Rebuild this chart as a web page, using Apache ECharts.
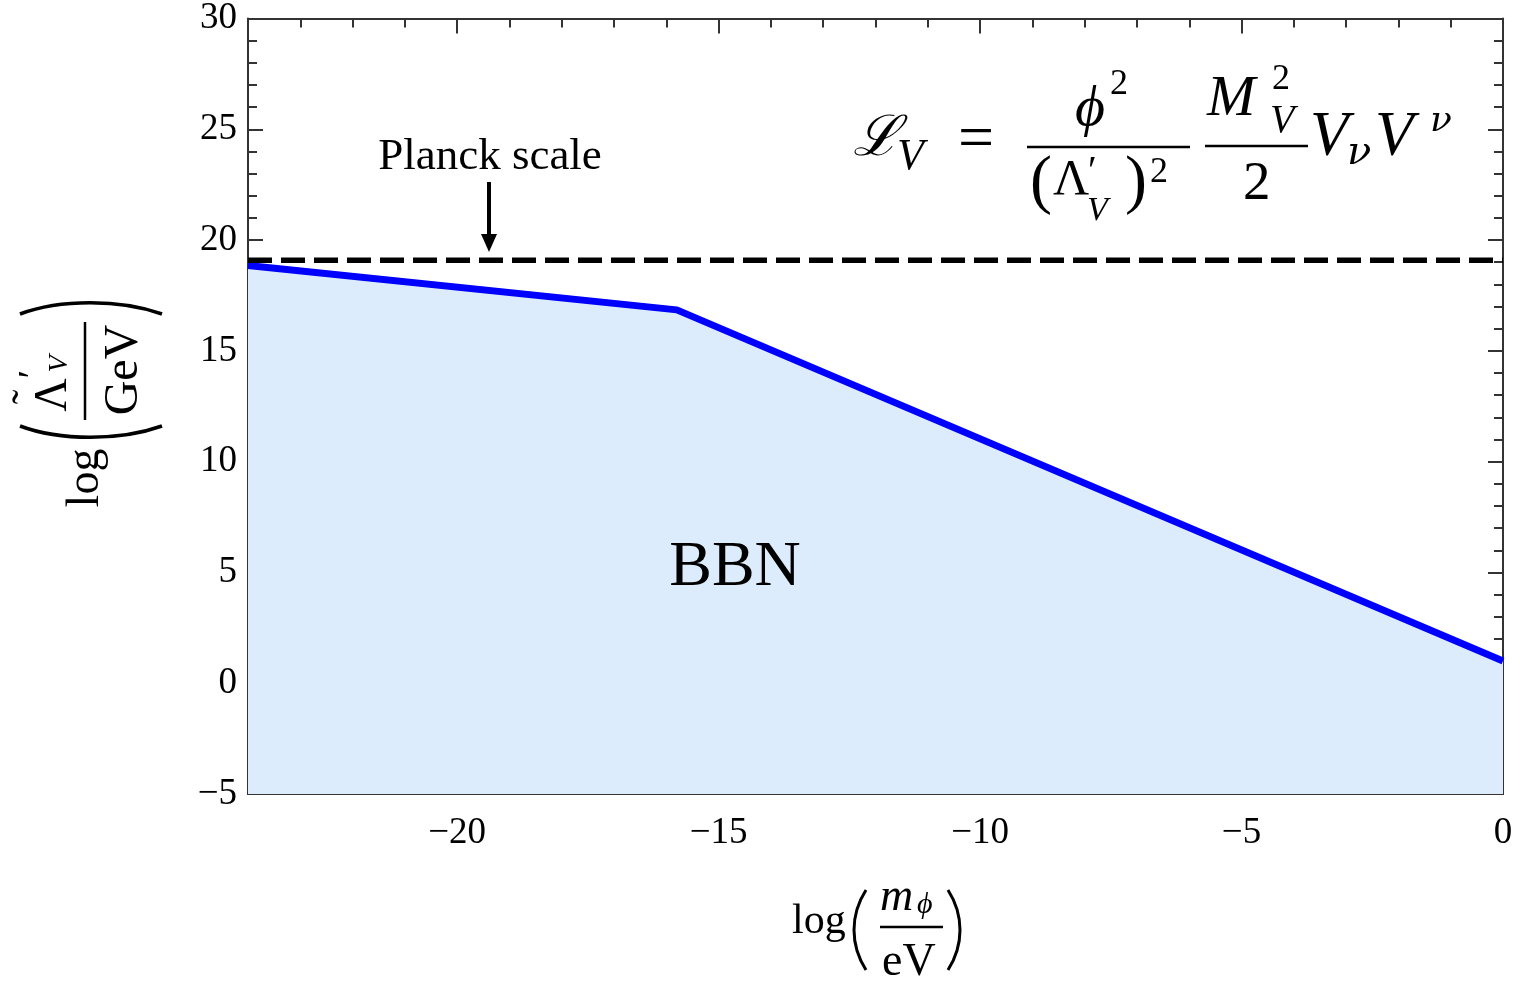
<!DOCTYPE html>
<html>
<head>
<meta charset="utf-8">
<script src="https://cdn.jsdelivr.net/npm/echarts@6/dist/echarts.min.js"></script>
<style>
html,body{margin:0;padding:0;background:#fff;}
#chart{width:1520px;height:983px;}
</style>
</head>
<body>
<div id="chart"></div>
<script>
// ---- data ----
const boundaryX = [-24, -15.8, 0];
const boundaryY = [18.85, 16.85, 1.0];
const planckX = [-24, 0];
const planckY = [19.09, 19.09];
const xMajorTicks = [-20, -15, -10, -5, 0];
const xMinorTicks = [-24,-23,-22,-21,-20,-19,-18,-17,-16,-15,-14,-13,-12,-11,-10,-9,-8,-7,-6,-5,-4,-3,-2,-1,0];
const yMin = -5, yMax = 30, yStep = 5;
const xMin = -24, xMax = 0;

const SERIF = '"Liberation Serif","DejaVu Serif",serif';
const DJV = '"DejaVu Serif",serif';
const AX = '#333';
const fmt = v => (v < 0 ? '\u2212' + Math.abs(v) : String(v));

const chart = echarts.init(document.getElementById('chart'));

function xAxisDef(pos, major, labels) {
  return {
    type: 'value', position: pos, min: xMin, max: xMax,
    axisLine: {show: true, onZero: false, lineStyle: {color: AX, width: 2}},
    axisTick: {show: true, inside: true, length: major ? 15 : 9,
      customValues: major ? xMajorTicks : xMinorTicks, lineStyle: {color: AX, width: 2}},
    axisLabel: {show: labels, customValues: xMajorTicks, formatter: fmt, margin: 21,
      fontFamily: SERIF, fontSize: 37, color: '#000'},
    splitLine: {show: false}, minorTick: {show: false}
  };
}
function yAxisDef(pos, labels) {
  return {
    type: 'value', position: pos, min: yMin, max: yMax, interval: yStep,
    axisLine: {show: true, onZero: false, lineStyle: {color: AX, width: 2}},
    axisTick: {show: true, inside: true, length: 15, lineStyle: {color: AX, width: 2}},
    minorTick: {show: true, splitNumber: 5, length: 9, lineStyle: {color: AX, width: 2}},
    axisLabel: {show: labels, formatter: fmt, margin: 11,
      fontFamily: SERIF, fontSize: 37, color: '#000'},
    splitLine: {show: false}
  };
}

function T(text, x, y, size, opts) {
  opts = opts || {};
  return {
    type: 'text', x: x, y: y, z: 100, rotation: opts.rot || 0,
    style: {
      text: text,
      font: (opts.italic ? 'italic ' : '') + size + 'px ' + (opts.family || SERIF),
      fill: '#000',
      align: opts.align || 'left',
      verticalAlign: 'middle'
    }
  };
}
function L(x1, y1, x2, y2, w) {
  return {type: 'line', z: 100, shape: {x1, y1, x2, y2}, style: {stroke: '#000', lineWidth: w || 2.5}};
}
function B(x1, y1, c1x, c1y, c2x, c2y, x2, y2, w) {
  return {type: 'bezierCurve', z: 100,
    shape: {x1, y1, cpx1: c1x, cpy1: c1y, cpx2: c2x, cpy2: c2y, x2, y2},
    style: {stroke: '#000', lineWidth: w || 3, fill: null}};
}

const R = Math.PI / 2;
const graphics = [
  // Planck annotation
  T('Planck scale', 490, 157, 45, {align: 'center'}),
  L(489, 182, 489, 238, 4),
  {type: 'polygon', z: 100, shape: {points: [[481, 234], [497, 234], [489, 252]]}, style: {fill: '#000'}},
  // BBN
  T('BBN', 735, 568, 64, {align: 'center'}),
  // Formula
  T('\u2112', 853, 140, 56, {italic: true, family: DJV}),
  T('V', 897, 157, 44, {italic: true}),
  T('=', 958, 141, 64),
  L(1027, 147, 1190, 147, 2.5),
  T('\u03d5', 1075, 110, 58, {italic: true}),
  T('2', 1110, 85, 36),
  T('(', 1030, 184, 66),
  T('\u039b', 1053, 181, 50),
  T('\u2032', 1088, 172, 40),
  T('V', 1087, 211, 34, {italic: true}),
  T(')', 1125, 184, 66),
  T('2', 1150, 173, 36),
  T('M', 1207, 100, 58, {italic: true}),
  T('2', 1272, 80, 36),
  T('V', 1270, 121, 40, {italic: true}),
  L(1205, 146, 1308, 146, 2.5),
  T('2', 1243, 185, 55),
  T('V', 1310, 138, 63, {italic: true}),
  T('\u03bd', 1347, 154, 40, {italic: true, family: DJV}),
  T('V', 1375, 138, 63, {italic: true}),
  T('\u03bd', 1430, 122, 36, {italic: true, family: DJV}),
  // x-axis title
  T('log', 792, 922, 42),
  B(866, 890, 850, 915, 850, 945, 866, 970, 3),
  T('m', 880, 898, 46, {italic: true}),
  T('\u03d5', 917, 905, 30, {italic: true}),
  L(880, 927, 943, 927, 2.5),
  T('eV', 882, 963, 46),
  B(948, 890, 964, 915, 964, 945, 948, 970, 3),
  // y-axis title (rotated)
  T('log', 86, 478, 46, {rot: R, align: 'center'}),
  B(20, 426, 60, 441, 120, 441, 162, 426, 3.5),
  T('\u039b', 54, 395, 46, {rot: R, align: 'center'}),
  T('\u02dc', 30, 397, 44, {rot: R, align: 'center'}),
  T('\u2032', 34, 374, 38, {rot: R, align: 'center'}),
  T('V', 60, 364, 28, {rot: R, align: 'center', italic: true}),
  L(85, 322, 85, 420, 2.5),
  T('GeV', 124, 370, 48, {rot: R, align: 'center'}),
  B(20, 314, 60, 299, 120, 299, 162, 314, 3.5)
];

chart.setOption({
  animation: false,
  backgroundColor: '#fff',
  grid: {left: 248, right: 17, top: 18, bottom: 189, containLabel: false},
  xAxis: [xAxisDef('bottom', true, true), xAxisDef('bottom', false, false),
          xAxisDef('top', true, false), xAxisDef('top', false, false)],
  yAxis: [yAxisDef('left', true), yAxisDef('right', false)],
  series: [
    {type: 'line', xAxisIndex: 0, yAxisIndex: 0, symbol: 'none',
     data: boundaryX.map((x, i) => [x, boundaryY[i]]),
     lineStyle: {color: '#0000ff', width: 7},
     areaStyle: {color: '#dcecfd', opacity: 1, origin: 'start'}, z: 3},
    {type: 'line', xAxisIndex: 0, yAxisIndex: 0, symbol: 'none',
     data: planckX.map((x, i) => [x, planckY[i]]),
     lineStyle: {color: '#000', width: 5.5, type: [24, 9]}, z: 4}
  ],
  graphic: graphics
});
</script>
</body>
</html>
